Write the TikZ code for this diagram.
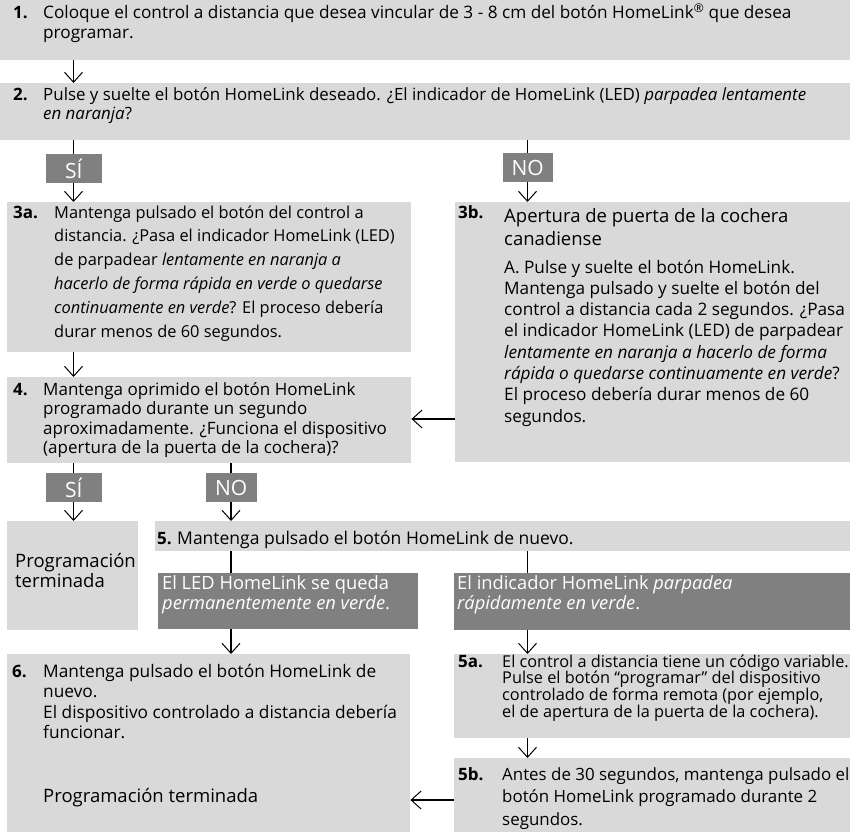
\documentclass[tikz,border=0pt]{standalone}
\usepackage{fontspec}
\setmainfont{Open Sans}
\usetikzlibrary{arrows.meta,calc}
\definecolor{lg}{RGB}{217,217,217}
\definecolor{dg}{RGB}{128,128,128}
\newcommand\fsz[2]{\fontsize{#1}{#2}\selectfont}
\newcommand\pb[1]{\parbox[t]{820pt}{\raggedright #1}}
\begin{document}
\begin{tikzpicture}[x=1pt,y=-1pt,
  lbox/.style={fill=lg, draw=none, inner sep=0pt, anchor=north west},
  dbox/.style={fill=dg, draw=none, inner sep=0pt, anchor=north west},
  tag/.style={fill=dg, text=white, inner sep=0pt, anchor=north west, minimum width=56pt, minimum height=29pt, font=\fsz{21}{22}},
  num/.style={inner sep=0pt, anchor=base west, font=\fsz{17}{20}\bfseries},
  txt/.style={inner sep=0pt, anchor=base west},
  line/.style={line width=1.6pt},
  arr/.style={line width=1.6pt, -{Straight Barb[length=10pt,width=18pt,line width=1pt]}},
]
\useasboundingbox (0,0) rectangle (850,832);
\coordinate (cL) at (73.5,0);
\coordinate (cM) at (231,0);
\coordinate (cR) at (527.5,0);
\coordinate (j1) at (0,419);
\coordinate (j2) at (0,800);

% boxes
\node[lbox, minimum width=850pt, minimum height=60pt] (b1) at (0,0) {};
\node[lbox, minimum width=850pt, minimum height=57pt] (b2) at (0,83) {};
\node[tag] (si1) at (45.5,154) {SÍ};
\node[tag, minimum width=50pt] (no1) at (502.5,153) {NO};
\node[lbox, minimum width=404pt, minimum height=150pt] (b3a) at (7,202) {};
\node[lbox, minimum width=395pt, minimum height=260pt] (b3b) at (455,202) {};
\node[lbox, minimum width=404pt, minimum height=86pt] (b4) at (7,377) {};
\node[tag] (si2) at (45.5,473) {SÍ};
\node[tag, minimum width=51pt] (no2) at (205.5,473) {NO};
\node[lbox, minimum width=131pt, minimum height=109pt] (bend) at (7,521) {};
\node[lbox, minimum width=695pt, minimum height=30pt] (b5) at (155,521) {};
\node[dbox, minimum width=260pt, minimum height=56pt] (d1) at (158,573) {};
\node[dbox, minimum width=396pt, minimum height=57pt] (d2) at (454,573) {};
\node[lbox, minimum width=403pt, minimum height=178pt] (b6) at (7,654) {};
\node[lbox, minimum width=396pt, minimum height=84pt] (b5a) at (454,654) {};
\node[lbox, minimum width=396pt, minimum height=74pt] (b5b) at (454,758) {};

% texts
\node[num] (n1) at (13,19) {1.};
\node[txt, font=\fsz{17.2}{19.5}] (t1) at (43,19) {\pb{Coloque el control a distancia que desea vincular de 3 - 8 cm del botón HomeLink\textsuperscript{®} que desea\\programar.}};
\node[num] (n2) at (13,100) {2.};
\node[txt, font=\fsz{16.9}{19.5}] (t2) at (43,100) {\pb{Pulse y suelte el botón HomeLink deseado. ¿El indicador de HomeLink (LED) \textit{parpadea lentamente}\\\textit{en naranja}?}};
\node[num] (n3a) at (13,218) {3a.};
\node[txt, font=\fsz{16.4}{23.8}] (t3a) at (54,218) {\pb{Mantenga pulsado el botón del control a\\distancia. ¿Pasa el indicador HomeLink (LED)\\de parpadear \textit{lentamente en naranja a}\\\textit{hacerlo de forma rápida en verde o quedarse}\\\textit{continuamente en verde}? El proceso debería\\durar menos de 60 segundos.}};
\node[num] (n3b) at (458,218) {3b.};
\node[txt, font=\fsz{18.5}{23}] (t3bh) at (504,222) {\pb{Apertura de puerta de la cochera\\canadiense}};
\node[txt, font=\fsz{17.2}{21.3}] (t3b) at (504,273) {\pb{A. Pulse y suelte el botón HomeLink.\\Mantenga pulsado y suelte el botón del\\control a distancia cada 2 segundos. ¿Pasa\\el indicador HomeLink (LED) de parpadear\\\textit{lentamente en naranja a hacerlo de forma}\\\textit{rápida o quedarse continuamente en verde}?\\El proceso debería durar menos de 60\\segundos.}};
\node[num] (n4) at (13,395) {4.};
\node[txt, font=\fsz{17}{19.6}] (t4) at (43,395) {\pb{Mantenga oprimido el botón HomeLink\\programado durante un segundo\\aproximadamente. ¿Funciona el dispositivo\\(apertura de la puerta de la cochera)?}};
\node[txt, font=\fsz{18.5}{20}] (tend) at (15,567) {\pb{Programación\\terminada}};
\node[num] (n5) at (157,544) {5.};
\node[txt, font=\fsz{17.5}{19.5}] (t5) at (177,544) {\pb{Mantenga pulsado el botón HomeLink de nuevo.}};
\node[txt, text=white, font=\fsz{18.3}{20}] (td1) at (162,589) {\pb{El LED HomeLink se queda\\\textit{permanentemente en verde}.}};
\node[txt, text=white, font=\fsz{18.3}{20}] (td2) at (457,589) {\pb{El indicador HomeLink \textit{parpadea}\\\textit{rápidamente en verde}.}};
\node[num] (n6) at (12,677) {6.};
\node[txt, font=\fsz{17.3}{20.6}] (t6) at (43,677) {\pb{Mantenga pulsado el botón HomeLink de\\nuevo.\\El dispositivo controlado a distancia debería\\funcionar.}};
\node[txt, font=\fsz{18.5}{20}] (t6e) at (43,802) {\pb{Programación terminada}};
\node[num] (n5a) at (458,667) {5a.};
\node[txt, font=\fsz{16.3}{16.7}] (t5a) at (502,667) {\pb{El control a distancia tiene un código variable.\\Pulse el botón “programar” del dispositivo\\controlado de forma remota (por ejemplo,\\el de apertura de la puerta de la cochera).}};
\node[num] (n5b) at (458,780) {5b.};
\node[txt, font=\fsz{16.9}{22.5}] (t5b) at (502,780) {\pb{Antes de 30 segundos, mantenga pulsado el\\botón HomeLink programado durante 2\\segundos.}};

% connectors
\draw[arr] (b1.south -| cL) -- (b2.north -| cL);
\draw[line] (b2.south -| cL) -- (si1.north -| cL);
\draw[arr] (si1.south -| cL) -- (b3a.north -| cL);
\draw[line] (b2.south -| cR) -- (no1.north -| cR);
\draw[arr] (no1.south -| cR) -- (b3b.north -| cR);
\draw[arr] (b3a.south -| cL) -- (b4.north -| cL);
\draw[arr] (b3b.west |- j1) -- (b4.east |- j1);
\draw[line] (b4.south -| cL) -- (si2.north -| cL);
\draw[arr] (si2.south -| cL) -- (bend.north -| cL);
\draw[line] (b4.south -| cM) -- (no2.north -| cM);
\draw[arr] (no2.south -| cM) -- (b5.north -| cM);
\draw[line] (b5.south -| cM) -- (d1.north -| cM);
\draw[line] (b5.south -| cR) -- (d2.north -| cR);
\draw[arr] (d1.south -| cM) -- (b6.north -| cM);
\draw[arr] (d2.south -| cR) -- (b5a.north -| cR);
\draw[arr] (b5a.south -| cR) -- (b5b.north -| cR);
\draw[arr] (b5b.west |- j2) -- (b6.east |- j2);
\end{tikzpicture}
\end{document}
